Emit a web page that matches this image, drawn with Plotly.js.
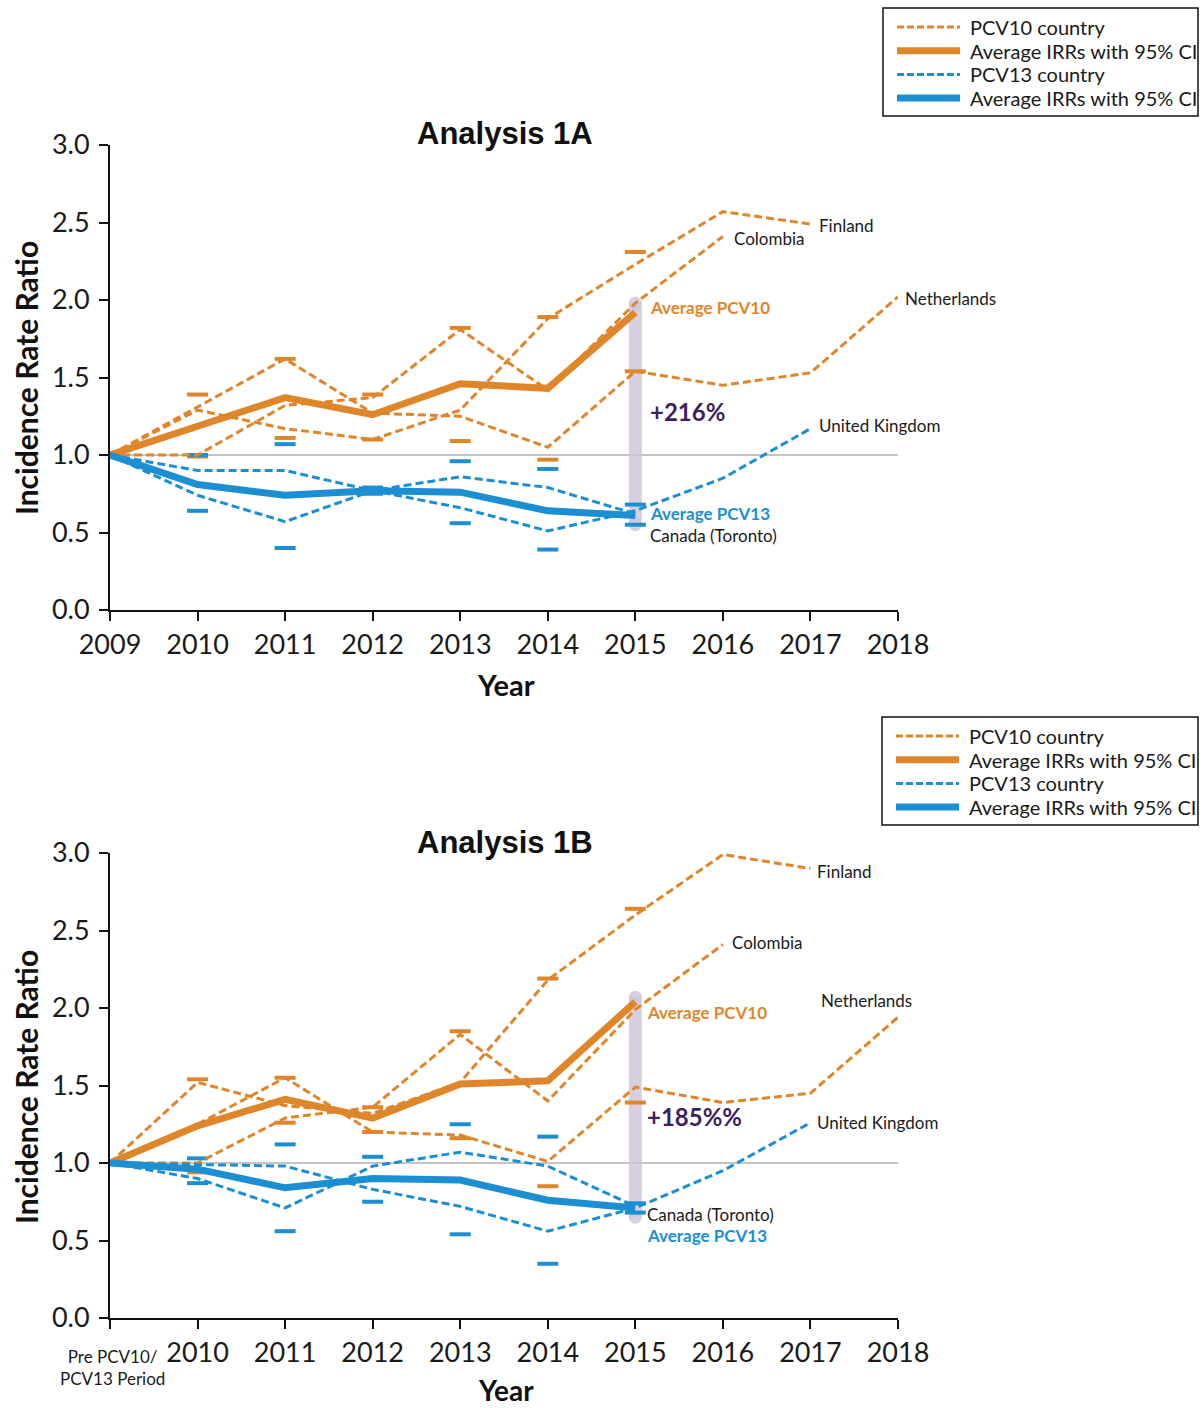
<!DOCTYPE html>
<html>
<head>
<meta charset="utf-8">
<script src="https://cdn.plot.ly/plotly-3.0.1.min.js"></script>
<style>html,body{margin:0;padding:0;background:#fff;}</style>
</head>
<body>
<div id="chart" style="width:1204px;height:1408px;"></div>
<script>
// ---------- DATA ----------
const years = [2009, 2010, 2011, 2012, 2013, 2014, 2015, 2016, 2017, 2018];
const ciYears = [2010, 2011, 2012, 2013, 2014, 2015];
const tickTextA = ['2009', '2010', '2011', '2012', '2013', '2014', '2015', '2016', '2017', '2018'];
const tickTextB = ['', '2010', '2011', '2012', '2013', '2014', '2015', '2016', '2017', '2018'];

// Analysis 1A
const finlandA     = [1.00, 1.29, 1.17, 1.10, 1.29, 1.88, 2.23, 2.57, 2.49];
const colombiaA    = [1.00, 1.00, 1.32, 1.37, 1.81, 1.42, 1.98, 2.41];
const netherlandsA = [1.00, 1.31, 1.62, 1.27, 1.25, 1.05, 1.54, 1.45, 1.53, 2.02];
const ukA          = [1.00, 0.90, 0.90, 0.77, 0.66, 0.51, 0.64, 0.85, 1.17];
const canadaA      = [1.00, 0.74, 0.57, 0.77, 0.86, 0.79, 0.62];
const avg10A       = [1.00, 1.18, 1.37, 1.26, 1.46, 1.43, 1.92];
const avg13A       = [1.00, 0.81, 0.74, 0.77, 0.76, 0.64, 0.61];
const ci10UpA      = [1.39, 1.62, 1.39, 1.82, 1.89, 2.31];
const ci10LoA      = [0.99, 1.11, 1.10, 1.09, 0.97, 1.54];
const ci13UpA      = [1.00, 1.07, 0.79, 0.96, 0.91, 0.68];
const ci13LoA      = [0.64, 0.40, 0.75, 0.56, 0.39, 0.55];
const bandA        = [0.55, 1.98];
const diffA        = '+216%';

// Analysis 1B
const finlandB     = [1.00, 1.52, 1.37, 1.32, 1.52, 2.18, 2.60, 2.99, 2.90];
const colombiaB    = [1.00, 1.00, 1.29, 1.36, 1.83, 1.40, 1.99, 2.41];
const netherlandsB = [1.00, 1.25, 1.55, 1.20, 1.18, 1.01, 1.49, 1.39, 1.45, 1.94];
const ukB          = [1.00, 0.99, 0.98, 0.83, 0.72, 0.56, 0.71, 0.95, 1.26];
const canadaB      = [1.00, 0.90, 0.71, 0.98, 1.07, 0.98, 0.72];
const avg10B       = [1.00, 1.24, 1.41, 1.29, 1.51, 1.53, 2.04];
const avg13B       = [1.00, 0.96, 0.84, 0.90, 0.89, 0.76, 0.71];
const ci10UpB      = [1.54, 1.55, 1.36, 1.85, 2.19, 2.64];
const ci10LoB      = [0.94, 1.26, 1.20, 1.16, 0.85, 1.39];
const ci13UpB      = [1.03, 1.12, 1.04, 1.25, 1.17, 0.74];
const ci13LoB      = [0.87, 0.56, 0.75, 0.54, 0.35, 0.68];
const bandB        = [0.65, 2.07];
const diffB        = '+185%%';

// ---------- STYLE ----------
const ORANGE = '#E0862A';
const BLUE = '#1B8FD2';
const BAND = 'rgba(205,196,218,0.8)';
const PURPLE = '#3E1F5E';
const FONT = 'Lato, "Noto Sans", sans-serif';
const W = 1204, H = 1408;
const px = v => v / W;
const py = v => 1 - v / H;

function countryLine(vals, color, xa, ya) {
  return {x: years.slice(0, vals.length), y: vals, xaxis: xa, yaxis: ya, type: 'scatter', mode: 'lines',
    line: {color: color, width: 3, dash: '8px,4px'}, hoverinfo: 'skip', cliponaxis: false};
}
function avgLine(vals, color, xa, ya) {
  return {x: years.slice(0, vals.length), y: vals, xaxis: xa, yaxis: ya, type: 'scatter', mode: 'lines',
    line: {color: color, width: 7}, hoverinfo: 'skip', cliponaxis: false};
}
function caps(vals, color, xa, ya) {
  return {x: ciYears, y: vals, xaxis: xa, yaxis: ya, type: 'scatter', mode: 'markers',
    marker: {symbol: 'line-ew-open', size: 15, color: color, line: {color: color, width: 4}},
    hoverinfo: 'skip', cliponaxis: false};
}
function band(vals, xa, ya) {
  return {x: [2015, 2015], y: vals, xaxis: xa, yaxis: ya, type: 'scatter', mode: 'lines+markers',
    line: {color: BAND, width: 13}, marker: {color: BAND, size: 13, symbol: 'circle'},
    hoverinfo: 'skip', cliponaxis: false};
}

function panel(xa, ya, d) {
  return [
    band(d.band, xa, ya),
    caps(d.c10u, ORANGE, xa, ya), caps(d.c10l, ORANGE, xa, ya),
    caps(d.c13u, BLUE, xa, ya), caps(d.c13l, BLUE, xa, ya),
    countryLine(d.fin, ORANGE, xa, ya), countryLine(d.col, ORANGE, xa, ya), countryLine(d.net, ORANGE, xa, ya),
    countryLine(d.uk, BLUE, xa, ya), countryLine(d.can, BLUE, xa, ya),
    avgLine(d.a10, ORANGE, xa, ya), avgLine(d.a13, BLUE, xa, ya)
  ];
}

const data = [].concat(
  panel('x', 'y', {band: bandA, c10u: ci10UpA, c10l: ci10LoA, c13u: ci13UpA, c13l: ci13LoA,
    fin: finlandA, col: colombiaA, net: netherlandsA, uk: ukA, can: canadaA, a10: avg10A, a13: avg13A}),
  panel('x2', 'y2', {band: bandB, c10u: ci10UpB, c10l: ci10LoB, c13u: ci13UpB, c13l: ci13LoB,
    fin: finlandB, col: colombiaB, net: netherlandsB, uk: ukB, can: canadaB, a10: avg10B, a13: avg13B})
);

function xAxis(anchor, texts) {
  return {anchor: anchor, domain: [px(110), px(898)], range: [2009, 2018], tickvals: years, ticktext: texts,
    showline: true, linecolor: '#111', linewidth: 2, ticks: 'outside', ticklen: 9, tickwidth: 2, tickcolor: '#111',
    showgrid: false, zeroline: false, tickfont: {family: FONT, size: 27, color: '#1a1a1a'}, ticklabelstandoff: 1,
    fixedrange: true};
}
function yAxis(anchor, top, bottom) {
  return {anchor: anchor, domain: [py(bottom), py(top)], range: [0, 3], tickvals: [0, 0.5, 1, 1.5, 2, 2.5, 3],
    ticktext: ['0.0', '0.5', '1.0', '1.5', '2.0', '2.5', '3.0'],
    showline: true, linecolor: '#111', linewidth: 2, ticks: 'outside', ticklen: 9, tickwidth: 2, tickcolor: '#111',
    showgrid: false, zeroline: false, tickfont: {family: FONT, size: 27, color: '#1a1a1a'}, ticklabelstandoff: 4,
    fixedrange: true};
}

const shapes = [
  {type: 'line', xref: 'x', yref: 'y', x0: 2009, x1: 2018, y0: 1, y1: 1, line: {color: '#8a8a8a', width: 1.2}, layer: 'below'},
  {type: 'line', xref: 'x2', yref: 'y2', x0: 2009, x1: 2018, y0: 1, y1: 1, line: {color: '#8a8a8a', width: 1.2}, layer: 'below'}
];
const annotations = [];

function legend(top, left) {
  shapes.push({type: 'rect', xref: 'paper', yref: 'paper', x0: px(left), x1: px(1198), y0: py(top), y1: py(top + 108),
    line: {color: '#111', width: 1.5}, fillcolor: 'rgba(0,0,0,0)'});
  const items = [
    {c: ORANGE, w: 3, dash: '7px,3px', t: 'PCV10 country'},
    {c: ORANGE, w: 7, dash: 'solid', t: 'Average IRRs with 95% CI'},
    {c: BLUE, w: 3, dash: '7px,3px', t: 'PCV13 country'},
    {c: BLUE, w: 7, dash: 'solid', t: 'Average IRRs with 95% CI'}
  ];
  items.forEach((it, i) => {
    const yy = top + 19 + i * 23.7;
    shapes.push({type: 'line', xref: 'paper', yref: 'paper', x0: px(left + 14), x1: px(left + 77), y0: py(yy), y1: py(yy),
      line: {color: it.c, width: it.w, dash: it.dash}});
    annotations.push({xref: 'paper', yref: 'paper', x: px(left + 85), y: py(yy), text: it.t, showarrow: false,
      xanchor: 'left', yanchor: 'middle', font: {family: FONT, size: 20, color: '#1a1a1a'}});
  });
}
legend(8, 883);
legend(717, 882);

function lbl(xa, ya, x, y, text, color, size, bold) {
  annotations.push({xref: xa, yref: ya, x: x, y: y, text: bold ? '<b>' + text + '</b>' : text, showarrow: false,
    xanchor: 'left', yanchor: 'middle', font: {family: FONT, size: size, color: color}});
}
// panel A labels
lbl('x', 'y', 2017.07, 2.48, 'Finland', '#1a1a1a', 17);
lbl('x', 'y', 2016.10, 2.40, 'Colombia', '#1a1a1a', 17);
lbl('paper', 'y', px(903), 2.01, 'Netherlands', '#1a1a1a', 17);
lbl('x', 'y', 2017.07, 1.19, 'United Kingdom', '#1a1a1a', 17);
lbl('x', 'y', 2015.14, 1.95, 'Average PCV10', ORANGE, 17, true);
lbl('x', 'y', 2015.14, 1.28, diffA, PURPLE, 24, true);
lbl('x', 'y', 2015.14, 0.62, 'Average PCV13', BLUE, 17, true);
lbl('x', 'y', 2015.14, 0.48, 'Canada (Toronto)', '#1a1a1a', 17);
// panel B labels
lbl('x2', 'y2', 2017.05, 2.88, 'Finland', '#1a1a1a', 17);
lbl('x2', 'y2', 2016.08, 2.42, 'Colombia', '#1a1a1a', 17);
lbl('x2', 'y2', 2017.10, 2.05, 'Netherlands', '#1a1a1a', 17);
lbl('x2', 'y2', 2017.05, 1.26, 'United Kingdom', '#1a1a1a', 17);
lbl('x2', 'y2', 2015.11, 1.97, 'Average PCV10', ORANGE, 17, true);
lbl('x2', 'y2', 2015.11, 1.30, diffB, PURPLE, 24, true);
lbl('x2', 'y2', 2015.11, 0.665, 'Canada (Toronto)', '#1a1a1a', 17);
lbl('x2', 'y2', 2015.11, 0.535, 'Average PCV13', BLUE, 17, true);

function paperText(x, y, text, size, opts) {
  annotations.push(Object.assign({xref: 'paper', yref: 'paper', x: px(x), y: py(y), text: text, showarrow: false,
    xanchor: 'center', yanchor: 'middle', font: {family: FONT, size: size, color: '#111'}}, opts || {}));
}
const TITLEFONT = {family: '"Liberation Sans", Arial, sans-serif', size: 31, color: '#111'};
paperText(505, 133, '<b>Analysis 1A</b>', 31, {font: TITLEFONT});
paperText(505, 842, '<b>Analysis 1B</b>', 31, {font: TITLEFONT});
paperText(506, 684, '<b>Year</b>', 29);
paperText(506, 1390, '<b>Year</b>', 28);
paperText(26, 378, '<b>Incidence Rate Ratio</b>', 30, {textangle: -90});
paperText(26, 1087, '<b>Incidence Rate Ratio</b>', 30, {textangle: -90});
paperText(112, 1367, 'Pre PCV10/<br>PCV13 Period', 17, {font: {family: FONT, size: 17, color: '#1a1a1a'}});

const layout = {
  width: W, height: H, margin: {l: 0, r: 0, t: 0, b: 0},
  paper_bgcolor: '#fff', plot_bgcolor: '#fff', showlegend: false,
  xaxis: xAxis('y', tickTextA), yaxis: yAxis('x', 145, 610),
  xaxis2: xAxis('y2', tickTextB), yaxis2: yAxis('x2', 853, 1318),
  shapes: shapes, annotations: annotations,
  font: {family: FONT}
};

Plotly.newPlot('chart', data, layout, {displayModeBar: false, staticPlot: true});
</script>
</body>
</html>
